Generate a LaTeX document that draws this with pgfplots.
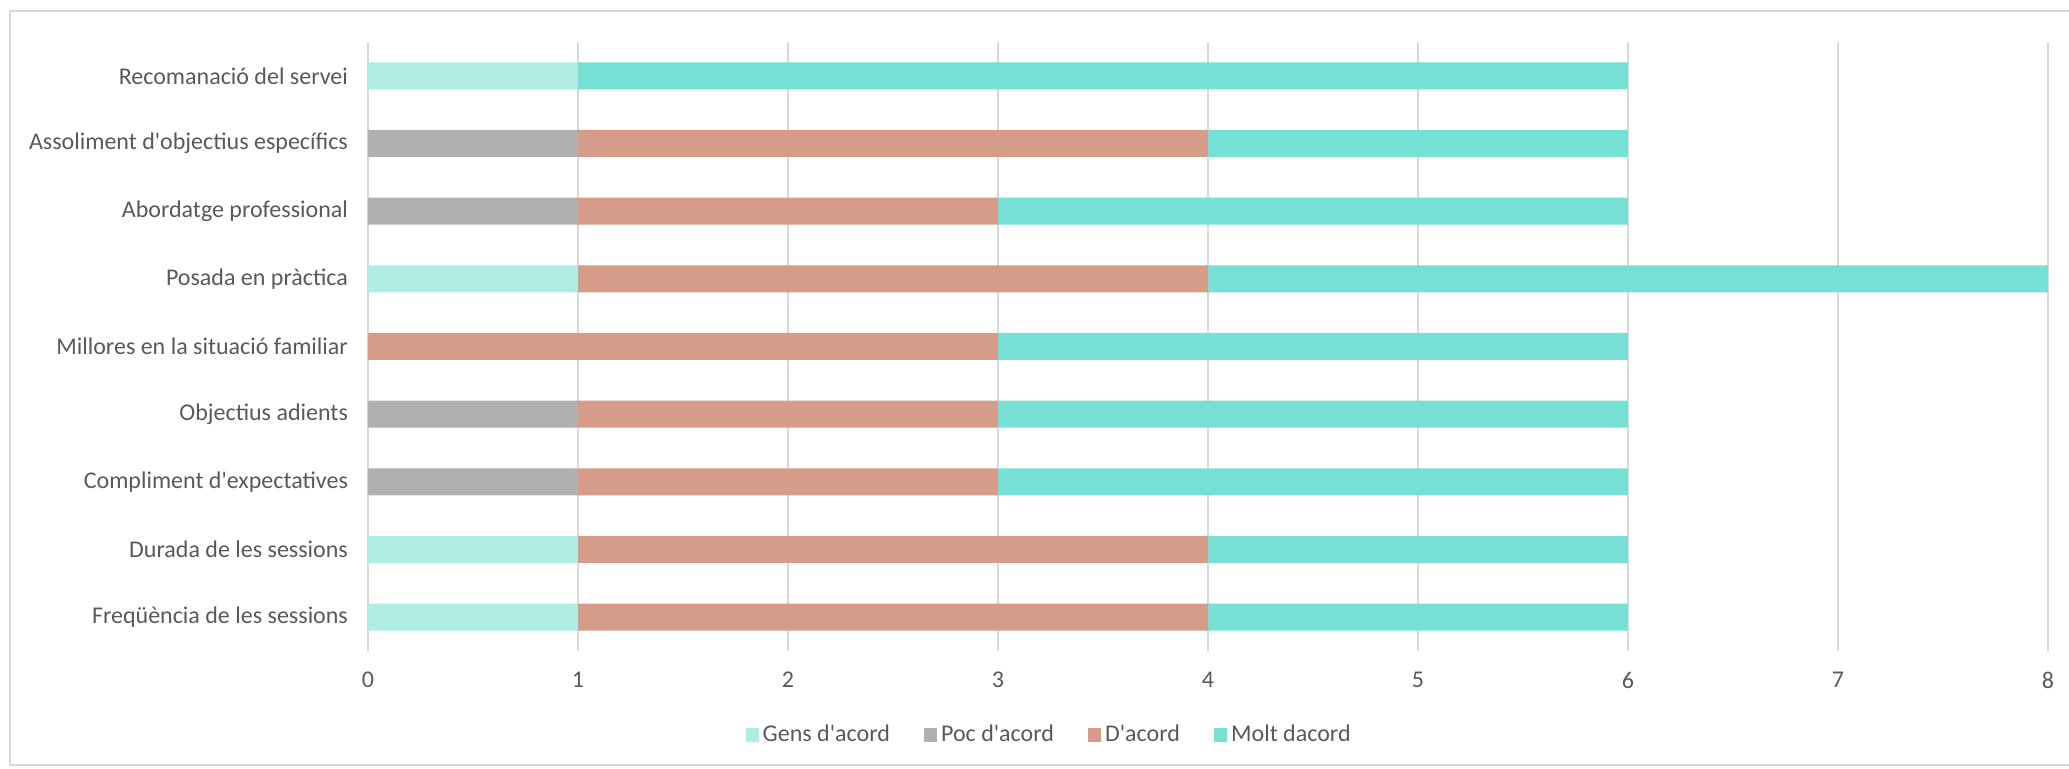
\documentclass[border=0pt]{standalone}
\usepackage{pgfplots}
\pgfplotsset{compat=1.18}
\usepackage{fontspec}
\setmainfont{Carlito}[Ligatures=TeXOff]
\definecolor{cA}{HTML}{AFEDE4}
\definecolor{cB}{HTML}{B0B0B0}
\definecolor{cC}{HTML}{D69C8A}
\definecolor{cD}{HTML}{76E0D4}
\definecolor{txt}{HTML}{595959}
\definecolor{gridc}{HTML}{D9D9D9}
\begin{document}
\begin{tikzpicture}
\path[use as bounding box] (0pt,0pt) rectangle (1034.5pt,384.5pt);
\draw[gridc, line width=0.8pt] (5pt,2pt) rectangle (1040pt,379pt);
\begin{axis}[
  at={(184pt,59pt)}, anchor=south west,
  scale only axis, width=840pt, height=304.5pt,
  xbar stacked, bar width=13.5pt,
  xmin=0, xmax=8, ymin=-0.5, ymax=8.5,
  xtick={0,...,8}, ytick={0,...,8},
  yticklabels={Freqüència de les sessions, Durada de les sessions, Compliment d'expectatives, Objectius adients, Millores en la situació familiar, Posada en pràctica, Abordatge professional, Assoliment d'objectius específics, Recomanació del servei},
  xmajorgrids, major grid style={gridc, line width=1pt},
  axis line style={draw=none}, tick style={draw=none},
  tick label style={text=txt, font=\fontsize{12}{14}\selectfont},
  /pgf/number format/assume math mode=true,
  yticklabel style={xshift=-6.5pt},
  xticklabel style={yshift=-7pt},
  legend style={at={(0.406,-0.138)}, anchor=center, draw=none, fill=none,
    legend columns=4, font=\fontsize{12}{14}\selectfont, text=txt,
    /tikz/every even column/.append style={column sep=15pt}},
  legend image code/.code={\fill (0pt,-3.3pt) rectangle (6.6pt,3.3pt);},
]
\addplot[fill=cA, draw=none] coordinates {(1,0) (1,1) (0,2) (0,3) (0,4) (1,5) (0,6) (0,7) (1,8)};
\addplot[fill=cB, draw=none] coordinates {(0,0) (0,1) (1,2) (1,3) (0,4) (0,5) (1,6) (1,7) (0,8)};
\addplot[fill=cC, draw=none] coordinates {(3,0) (3,1) (2,2) (2,3) (3,4) (3,5) (2,6) (3,7) (0,8)};
\addplot[fill=cD, draw=none] coordinates {(2,0) (2,1) (3,2) (3,3) (3,4) (4,5) (3,6) (2,7) (5,8)};
\legend{Gens d'acord, Poc d'acord, D'acord, Molt dacord}
\end{axis}
\end{tikzpicture}
\end{document}
